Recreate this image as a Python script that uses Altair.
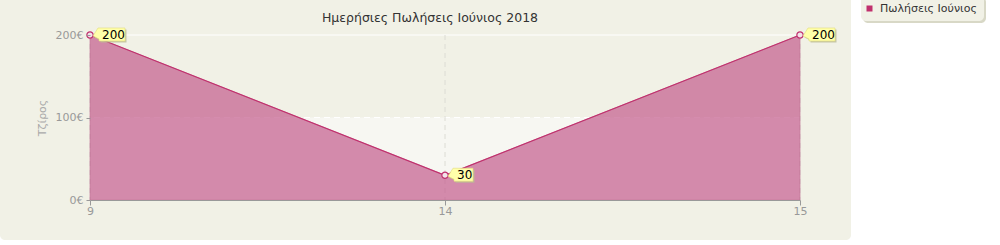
import altair as alt
import pandas as pd

# ---- data ----
days = ["9", "14", "15"]
sales = [200, 30, 200]
y_ticks = [0, 100, 200]
series_name = "Πωλήσεις Ιούνιος"
chart_title = "Ημερήσιες Πωλήσεις Ιούνιος 2018"
y_title = "Τζίρος"
band_low = [0]
band_high = [100]

df = pd.DataFrame({"day": days, "sales": sales, "series": [series_name] * len(days)})
bands = pd.DataFrame({"y0": band_low, "y1": band_high})
grid_y = pd.DataFrame({"v": y_ticks[1:], "dash": ["dashed", "solid"]})
one = pd.DataFrame({"a": [0]})

FONT = "DejaVu Sans"
W, H = 710, 165
PINK = "#c0306d"

xs = alt.X("day:O", sort=days, scale=alt.Scale(type="point", padding=0),
           axis=alt.Axis(title=None, labelAngle=0, labelAlign="center", labelColor="#999999",
                         labelFont=FONT, labelFontSize=11, tickColor="#999999", tickSize=5,
                         domainColor="#999999", labelPadding=6, zindex=1, grid=False))
ys = alt.Y("sales:Q", scale=alt.Scale(domain=[0, 200], nice=False),
           axis=alt.Axis(values=y_ticks, labelExpr="datum.value + '€'", title=y_title,
                         titleColor="#aaaaaa", titleFont=FONT, titleFontSize=11,
                         titleFontWeight="normal", titlePadding=8,
                         labelColor="#999999", labelFont=FONT, labelFontSize=11,
                         tickColor="#999999", tickSize=4, domain=False, labelPadding=3,
                         zindex=1, grid=False))

panel = alt.Chart(one).mark_rect(color="#f1f1e6", cornerRadius=5).encode(
    x=alt.value(-90), x2=alt.value(761), y=alt.value(-40), y2=alt.value(205))

legend_shadow = alt.Chart(one).mark_rect(color="#d8d8c6", cornerRadius=5).encode(
    x=alt.value(773), x2=alt.value(896), y=alt.value(-38), y2=alt.value(-12))
legend_box = alt.Chart(one).mark_rect(color="#f1f1e6", cornerRadius=5).encode(
    x=alt.value(771), x2=alt.value(894), y=alt.value(-40), y2=alt.value(-14))

band = alt.Chart(bands).mark_rect(color="#f7f7f2").encode(
    y=alt.Y("y0:Q", scale=alt.Scale(domain=[0, 200], nice=False)), y2="y1:Q",
    x=alt.value(0), x2=alt.value(W))

hgrid = alt.Chart(grid_y).mark_rule(color="#ffffff", strokeWidth=1).encode(
    y=alt.Y("v:Q", scale=alt.Scale(domain=[0, 200], nice=False)),
    strokeDash=alt.condition("datum.dash == 'dashed'", alt.value([6, 4]), alt.value([1, 0])))

vgrid = alt.Chart(df).mark_rule(color="#dcdcd4", strokeDash=[5, 4]).encode(
    x=alt.X("day:O", sort=days, scale=alt.Scale(type="point", padding=0)),
    y=alt.value(0), y2=alt.value(H))

base = alt.Chart(df).encode(x=xs)

area = base.mark_area(color="#c66190", opacity=0.72, stroke="#b04a7a", strokeWidth=1,
                      strokeOpacity=0.7).encode(y=ys)

line = base.mark_line(strokeWidth=1.2).encode(
    y="sales:Q",
    color=alt.Color("series:N", scale=alt.Scale(range=[PINK]),
                    legend=alt.Legend(title=None, orient="none", legendX=774, legendY=-32,
                                      symbolType="square", symbolSize=9, symbolStrokeWidth=3,
                                      symbolFillColor=PINK, symbolStrokeColor=PINK,
                                      padding=0, labelFont=FONT, labelFontSize=11,
                                      labelColor="#333333", labelOffset=5)))

pts = base.mark_point(shape="circle", size=40, filled=True, fill="#f3e3ea", stroke=PINK,
                      strokeWidth=1.2, opacity=1).encode(y="sales:Q")

path3 = "M0.8,-0.7 L3.5,-0.7 L3.5,0.6 L0.9,0.6 L0.9,0.4 L0.3,0.1 Z"
path2 = "M0.8,-0.7 L2.8,-0.7 L2.8,0.6 L0.9,0.6 L0.9,0.4 L0.3,0.1 Z"
shape_enc = alt.condition("datum.sales >= 100", alt.value(path3), alt.value(path2))

call_shadow = base.mark_point(size=400, filled=True, color="#bcbc96", opacity=0.8,
                              xOffset=1.5, yOffset=1.5).encode(y="sales:Q", shape=shape_enc)
callout = base.mark_point(size=400, filled=True, fill="#ffffaa", stroke="#e2dc7a",
                          strokeWidth=0.6, opacity=1).encode(y="sales:Q", shape=shape_enc)
labels = base.mark_text(align="left", baseline="middle", dx=12, dy=0, font=FONT,
                        fontSize=12, color="#000000").encode(y="sales:Q", text="sales:Q")

chart = alt.layer(panel, legend_shadow, legend_box, band, hgrid, vgrid, area, line, pts,
                  call_shadow, callout, labels).properties(
    width=W, height=H,
    title=alt.TitleParams(chart_title, font=FONT, fontSize=12.5, fontWeight="normal",
                          color="#333333", anchor="middle", dx=-15, offset=0, dy=29,
                          frame="group"),
    autosize=alt.AutoSizeParams(type="none"),
    padding={"left": 90, "top": 35, "right": 200, "bottom": 45},
    background="#ffffff",
).configure_view(stroke=None)

chart.save("out.html", embed_options={"renderer": "svg", "actions": False})
